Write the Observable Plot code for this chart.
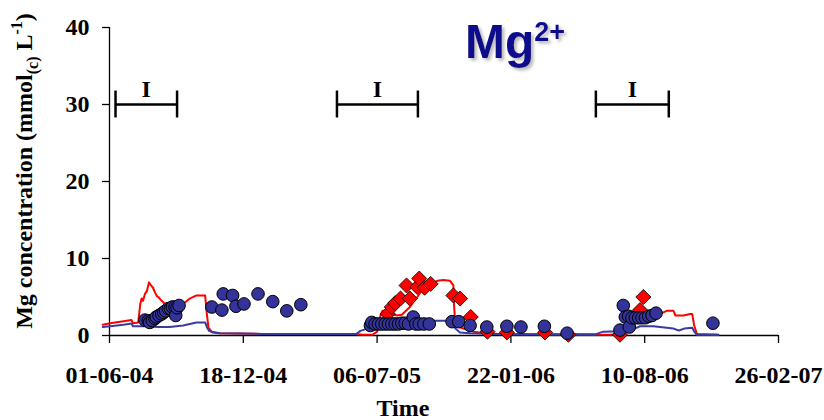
<!DOCTYPE html>
<html>
<head>
<meta charset="utf-8">
<script src="https://cdn.jsdelivr.net/npm/d3@7"></script>
<script src="https://cdn.jsdelivr.net/npm/@observablehq/plot@0.6"></script>
<style>
  html, body { margin: 0; padding: 0; background: #fff; }
  #chart svg { display: block; }
</style>
</head>
<body>
<div id="chart"></div>
<script>
// ---- data ----
const xTickLabels = ["01-06-04", "18-12-04", "06-07-05", "22-01-06", "10-08-06", "26-02-07"];
const yTicks = [0, 10, 20, 30, 40];

const redLineDates = ["2004-05-22","2004-06-02","2004-06-22","2004-07-04","2004-07-06","2004-07-14","2004-07-17","2004-07-19","2004-07-21","2004-07-24","2004-07-27","2004-07-30","2004-08-02","2004-08-05","2004-08-08","2004-08-11","2004-08-13","2004-08-18","2004-08-23","2004-08-30","2004-09-09","2004-09-19","2004-09-29","2004-10-09","2004-10-22","2004-10-24","2004-10-27","2004-11-01","2004-11-13","2005-01-15","2005-06-05","2005-06-14","2005-06-29","2005-07-06","2005-07-11","2005-07-14","2005-07-20","2005-07-24","2005-08-04","2005-08-12","2005-08-24","2005-09-04","2005-09-13","2005-09-24","2005-10-04","2005-10-13","2005-10-23","2005-10-28","2005-10-29","2005-10-31","2005-11-12","2005-11-27","2005-12-15","2006-01-10","2006-05-28","2006-06-19","2006-07-04","2006-07-19","2006-08-03","2006-08-22","2006-09-02","2006-09-12","2006-09-22","2006-09-25","2006-10-07","2006-10-17","2006-10-20","2006-10-23","2006-10-27","2006-11-28"];
const redLineValues = [1.4,1.6,1.85,2.0,1.6,1.7,4.1,4.8,4.5,5.4,5.8,6.9,6.5,6.2,5.6,5.1,5.0,4.5,4.1,3.7,3.7,4.1,4.8,5.2,5.2,3.2,1.0,0.5,0.3,0.2,0.2,0.1,0.1,0.5,2.6,3.2,3.2,3.0,2.6,2.7,3.7,5.0,6.1,6.7,7.1,7.2,7.1,6.5,4.0,1.3,0.9,0.5,0.3,0.15,0.1,0.1,0.2,1.2,2.0,2.4,2.8,3.2,3.2,2.6,2.6,2.8,2.8,1.3,0.2,0.1];

const blueLineDates = ["2004-05-22","2004-06-02","2004-06-22","2004-07-04","2004-07-06","2004-07-24","2004-08-13","2004-08-30","2004-09-19","2004-09-29","2004-10-09","2004-10-22","2004-10-25","2004-10-28","2004-11-02","2004-11-13","2005-01-15","2005-06-05","2005-06-11","2005-06-18","2005-06-26","2005-07-11","2005-08-10","2005-09-24","2005-10-19","2005-10-25","2005-10-31","2005-11-07","2005-11-22","2006-01-10","2006-05-28","2006-06-09","2006-07-04","2006-07-26","2006-08-03","2006-08-23","2006-09-12","2006-09-22","2006-09-30","2006-10-08","2006-10-20","2006-10-23","2006-10-27","2006-11-28"];
const blueLineValues = [1.1,1.2,1.4,1.55,1.2,1.2,1.1,1.1,1.3,1.5,1.7,1.7,1.0,0.6,0.4,0.3,0.2,0.2,0.6,0.8,1.1,1.4,1.6,1.9,1.9,1.7,0.9,0.4,0.3,0.15,0.15,0.5,0.55,0.9,1.2,1.2,1.0,0.9,0.65,0.9,1.0,0.5,0.1,0.1];

const dotDates = ["2004-07-24","2004-07-29","2004-07-31","2004-08-04","2004-08-08","2004-08-10","2004-08-14","2004-08-18","2004-08-21","2004-08-24","2004-08-28","2004-08-31","2004-09-03","2004-09-07","2004-09-08","2004-09-10","2004-09-13","2004-11-01","2004-11-16","2004-11-18","2004-12-02","2004-12-07","2004-12-19","2005-01-09","2005-01-31","2005-02-21","2005-03-14","2005-06-26","2005-06-28","2005-07-03","2005-07-08","2005-07-13","2005-07-18","2005-07-23","2005-07-28","2005-08-02","2005-08-07","2005-08-12","2005-08-17","2005-08-22","2005-08-29","2005-09-02","2005-09-07","2005-09-14","2005-09-22","2005-10-26","2005-11-05","2005-11-22","2005-12-17","2006-01-16","2006-02-06","2006-03-13","2006-04-16","2006-07-04","2006-07-09","2006-07-12","2006-07-17","2006-07-18","2006-07-22","2006-07-27","2006-08-01","2006-08-06","2006-08-11","2006-08-16","2006-08-21","2006-08-27","2006-11-20"];
const dotValues = [2.0,1.9,1.7,1.95,2.2,2.4,2.6,2.8,3.0,3.2,3.5,3.5,3.7,3.7,2.6,3.6,3.9,3.7,3.3,5.4,5.2,3.8,4.1,5.4,4.4,3.2,4.0,1.3,1.7,1.5,1.5,1.5,1.5,1.5,1.5,1.5,1.5,1.6,1.6,1.5,2.4,1.5,1.5,1.5,1.5,1.8,1.8,1.3,1.1,1.2,1.1,1.2,0.3,0.7,3.9,2.4,2.5,1.1,2.3,2.3,2.3,2.3,2.3,2.5,2.6,2.9,1.6];

const diamondDates = ["2005-07-22","2005-07-28","2005-08-02","2005-08-10","2005-08-19","2005-08-24","2005-09-04","2005-09-07","2005-09-15","2005-09-24","2005-10-28","2005-11-07","2005-11-23","2005-12-18","2006-01-16","2006-03-14","2006-04-18","2006-07-04","2006-07-28","2006-08-03","2006-08-08"];
const diamondValues = [2.8,3.7,4.2,4.8,6.5,4.8,6.3,7.4,6.2,6.7,5.2,4.8,2.4,0.5,0.4,0.4,0.1,0.1,2.6,3.3,5.0];

const irrigationStart = ["2004-06-10", "2005-05-07", "2006-05-29"];
const irrigationEnd = ["2004-09-10", "2005-09-05", "2006-09-15"];
const irrigationLabel = "I";
const barLevel = 30;

// ---- build ----
const parseISO = d3.utcParse("%Y-%m-%d");
const parseTick = d3.utcParse("%d-%m-%y");
const xTicks = xTickLabels.map(parseTick);
const zip = (ds, vs) => ds.map((d, i) => ({date: parseISO(d), value: vs[i]}));
const redLine = zip(redLineDates, redLineValues);
const blueLine = zip(blueLineDates, blueLineValues);
const dots = zip(dotDates, dotValues);
const diamonds = zip(diamondDates, diamondValues);
const irr = irrigationStart.map((s, i) => {
  const a = parseISO(s), b = parseISO(irrigationEnd[i]);
  return {start: a, end: b, mid: new Date((+a + +b) / 2)};
});

const serif = "'Liberation Serif', 'Times New Roman', serif";
const plot = Plot.plot({
  width: 824,
  height: 420,
  marginLeft: 109,
  marginRight: 46,
  marginTop: 27,
  marginBottom: 85,
  style: {fontFamily: serif, fontSize: "24px", fontWeight: "bold", color: "black", background: "white", overflow: "visible"},
  x: {type: "utc", domain: [xTicks[0], xTicks[xTicks.length - 1]]},
  y: {domain: [0, 40]},
  marks: [
    Plot.axisY({ticks: yTicks, tickSize: 7, tickPadding: 13, label: null, strokeWidth: 1.3}),
    Plot.axisX({ticks: xTicks, tickFormat: d3.utcFormat("%d-%m-%y"), tickSize: 8, tickPadding: 22, label: null, strokeWidth: 1.3}),
    Plot.ruleY([0], {strokeWidth: 1.3}),
    Plot.ruleX([xTicks[0]], {strokeWidth: 1.3}),
    // irrigation bars
    Plot.ruleY(irr, {x1: "start", x2: "end", y: barLevel, strokeWidth: 2.5}),
    Plot.ruleX(irr, {x: "start", y1: barLevel - 1.75, y2: barLevel + 1.75, strokeWidth: 2.5}),
    Plot.ruleX(irr, {x: "end", y1: barLevel - 1.75, y2: barLevel + 1.75, strokeWidth: 2.5}),
    Plot.text(irr, {x: "mid", y: barLevel, text: () => irrigationLabel, dy: -15, fontSize: 24, fontWeight: "bold"}),
    // series
    Plot.line(redLine, {x: "date", y: "value", stroke: "#ff0000", strokeWidth: 2}),
    Plot.line(blueLine, {x: "date", y: "value", stroke: "#3a3aa3", strokeWidth: 2}),
    Plot.dot(diamonds, {x: "date", y: "value", symbol: "diamond2", r: 6.8, fill: "#ff0000", stroke: "#000", strokeWidth: 0.8}),
    Plot.dot(dots, {x: "date", y: "value", r: 6.3, fill: "#333399", stroke: "#000", strokeWidth: 1})
  ]
});
document.getElementById("chart").appendChild(plot);

const svg = d3.select(plot);
// shadow filter for title
const defs = svg.append("defs");
const f = defs.append("filter").attr("id", "shadow").attr("x", "-10%").attr("y", "-10%").attr("width", "130%").attr("height", "140%");
f.append("feDropShadow").attr("dx", 2.5).attr("dy", 2.5).attr("stdDeviation", 1.5).attr("flood-color", "#808080").attr("flood-opacity", 0.55);

const title = svg.append("text")
  .attr("x", 465).attr("y", 58)
  .attr("text-anchor", "start")
  .attr("font-family", "'Liberation Sans', Arial, sans-serif")
  .attr("font-weight", "bold").attr("font-size", 48)
  .attr("fill", "#0c0c8c").attr("filter", "url(#shadow)");
title.append("tspan").text("Mg");
title.append("tspan").attr("font-size", 27).attr("dy", -17).text("2+");

// y axis title
const yt = svg.append("text")
  .attr("transform", "translate(32,171) rotate(-90)")
  .attr("text-anchor", "middle")
  .attr("font-family", serif).attr("font-weight", "bold").attr("font-size", 24).attr("fill", "#000");
yt.append("tspan").text("Mg concentration (mmol");
yt.append("tspan").attr("font-size", 16).attr("dy", 6).text("(c)");
yt.append("tspan").attr("font-size", 24).attr("dy", -6).text(" L");
yt.append("tspan").attr("font-size", 16).attr("dy", -10).text("-1");
yt.append("tspan").attr("font-size", 24).attr("dy", 10).text(")");

// x axis title
svg.append("text")
  .attr("x", 403).attr("y", 416)
  .attr("text-anchor", "middle")
  .attr("font-family", serif).attr("font-weight", "bold").attr("font-size", 24).attr("fill", "#000")
  .text("Time");
</script>
</body>
</html>
